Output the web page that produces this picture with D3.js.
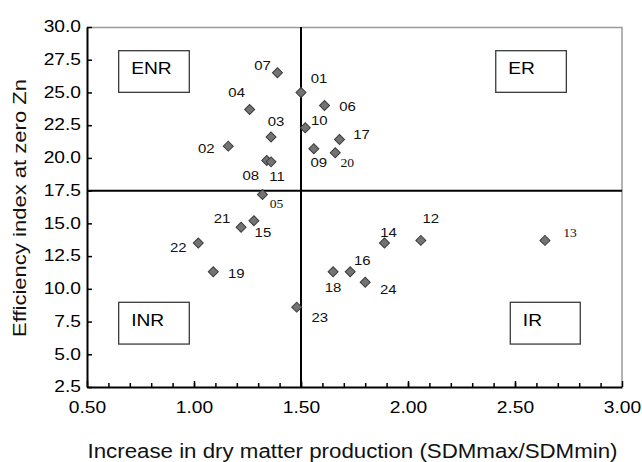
<!DOCTYPE html>
<html>
<head>
<meta charset="utf-8">
<script src="https://cdn.jsdelivr.net/npm/d3@7"></script>
<style>
  body { margin: 0; background: #fff; }
  svg { display: block; }
</style>
</head>
<body>
<svg id="chart" width="642" height="462"></svg>
<script>
// genotype codes and their values
var genotypes = ["01","02","03","04","05","06","07","08","09","10","11","12",
                 "13","14","15","16","17","18","19","20","21","22","23","24"];
var sdmRatio = [1.50, 1.16, 1.36, 1.26, 1.32, 1.61, 1.39, 1.34, 1.56, 1.52, 1.36, 2.06,
                2.64, 1.89, 1.28, 1.73, 1.68, 1.65, 1.09, 1.66, 1.22, 1.02, 1.48, 1.80];
var efficiency = [25.0, 20.9, 21.6, 23.7, 17.2, 24.0, 26.5, 19.8, 20.7, 22.3, 19.7, 13.7,
                  13.7, 13.5, 15.2, 11.3, 21.4, 11.3, 11.3, 20.4, 14.7, 13.5, 8.6, 10.5];

var xTicks = [0.5, 1.0, 1.5, 2.0, 2.5, 3.0];
var yTicks = [2.5, 5.0, 7.5, 10.0, 12.5, 15.0, 17.5, 20.0, 22.5, 25.0, 27.5, 30.0];

// quadrant boxes
var quadNames = ["ENR", "ER", "INR", "IR"];
var quadX0 = [0.648, 2.41, 0.648, 2.478];
var quadX1 = [0.978, 2.74, 0.978, 2.805];
var quadYTop = [28.19, 28.19, 8.97, 8.97];
var quadYBot = [25.01, 25.01, 5.78, 5.78];

var xCut = 1.5, yCut = 17.5;

// where each label sits around its point (px)
var labelOffset = {
  "01": [18, -14], "02": [-22, 2], "03": [5, -16], "04": [-13, -17], "05": [14, 9],
  "06": [23, 1], "07": [-15, -8], "08": [-16, 15], "09": [5, 14], "10": [14, -7],
  "11": [6, 14], "12": [10, -22], "13": [25, -8], "14": [4, -11], "15": [9, 12],
  "16": [12, -11], "17": [22, -5], "18": [0, 16], "19": [23, 2], "20": [12, 10],
  "21": [-19, -9], "22": [-20, 4], "23": [23, 10], "24": [23, 7]
};
var serifLabels = ["05", "13", "20"];

var sans = "'Liberation Sans', Arial, Helvetica, sans-serif";
var serif = "'Liberation Serif', 'Times New Roman', serif";

var svg = d3.select("#chart"),
    width = +svg.attr("width"),
    height = +svg.attr("height"),
    margin = {top: 27, right: 20, bottom: 75, left: 87},
    w = width - margin.left - margin.right,
    h = height - margin.top - margin.bottom;

var x = d3.scaleLinear().domain([0.5, 3.0]).range([0, w]);
var y = d3.scaleLinear().domain([2.5, 30.0]).range([h, 0]);

var g = svg.append("g").attr("transform", "translate(" + margin.left + "," + margin.top + ")");

// top and right frame
g.append("path")
    .attr("d", "M0,0.5H" + w + "V" + h)
    .attr("fill", "none")
    .attr("stroke", "#9a9a9a")
    .attr("stroke-width", 1.5);

// minor x ticks
g.append("g")
    .attr("transform", "translate(0," + h + ")")
    .call(d3.axisBottom(x).tickValues(d3.range(6, 30).map(function(d) { return d / 10; }))
      .tickSize(-4).tickFormat(""))
    .call(function(a) {
      a.select(".domain").remove();
      a.selectAll("line").attr("stroke", "#000").attr("stroke-width", 1.5);
    });

// x axis
var xAxis = g.append("g")
    .attr("transform", "translate(0," + h + ")")
    .call(d3.axisBottom(x).tickValues(xTicks).tickSize(-6).tickPadding(0)
      .tickSizeOuter(0).tickFormat(d3.format(".2f")));
xAxis.select(".domain").attr("stroke", "#000").attr("stroke-width", 2);
xAxis.selectAll("line").attr("stroke", "#000").attr("stroke-width", 1.5);
xAxis.selectAll("text")
    .attr("y", 26.5).attr("dy", null)
    .attr("transform", "scale(1.2,1)")
    .attr("fill", "#000")
    .style("font-family", sans).style("font-size", "16px");

// y axis
var yAxis = g.append("g")
    .call(d3.axisLeft(y).tickValues(yTicks).tickSize(-5).tickPadding(0)
      .tickSizeOuter(0).tickFormat(d3.format(".1f")));
yAxis.select(".domain").attr("stroke", "#000").attr("stroke-width", 2);
yAxis.selectAll("line").attr("stroke", "#000").attr("stroke-width", 1.5);
yAxis.selectAll("text")
    .attr("x", -6 / 1.2).attr("dy", "0.3em")
    .attr("transform", "scale(1.2,1)")
    .attr("fill", "#000")
    .style("font-family", sans).style("font-size", "16px");

// cut lines
g.append("line")
    .attr("x1", x(xCut)).attr("x2", x(xCut))
    .attr("y1", 0).attr("y2", h)
    .attr("stroke", "#000").attr("stroke-width", 2);
g.append("line")
    .attr("x1", 0).attr("x2", w)
    .attr("y1", y(yCut)).attr("y2", y(yCut))
    .attr("stroke", "#000").attr("stroke-width", 2);

// quadrant boxes
var quads = g.selectAll(".quad")
    .data(quadNames)
    .enter().append("g")
    .attr("class", "quad")
    .attr("transform", function(d, i) { return "translate(" + x(quadX0[i]) + "," + y(quadYTop[i]) + ")"; });
quads.append("rect")
    .attr("width", function(d, i) { return x(quadX1[i]) - x(quadX0[i]); })
    .attr("height", function(d, i) { return y(quadYBot[i]) - y(quadYTop[i]); })
    .attr("fill", "#fff")
    .attr("stroke", "#3a3a3a")
    .attr("stroke-width", 1.3);
quads.append("text")
    .attr("transform", "translate(12.5,23.5) scale(1.13,1)")
    .style("font-family", sans).style("font-size", "17px")
    .attr("fill", "#000")
    .text(function(d) { return d; });

// points
var pts = genotypes.map(function(id, i) { return {id: id, x: sdmRatio[i], y: efficiency[i]}; });

g.selectAll(".pt")
    .data(pts)
    .enter().append("path")
    .attr("class", "pt")
    .attr("d", d3.symbol().type(d3.symbolSquare).size(50))
    .attr("transform", function(d) { return "translate(" + x(d.x) + "," + y(d.y) + ") rotate(45)"; })
    .attr("fill", "#737373")
    .attr("stroke", "#3c3c3c")
    .attr("stroke-width", 1);

g.selectAll(".lbl")
    .data(pts)
    .enter().append("text")
    .attr("class", "lbl")
    .attr("transform", function(d) {
      var o = labelOffset[d.id];
      var isSerif = serifLabels.indexOf(d.id) >= 0;
      return "translate(" + (x(d.x) + o[0]) + "," + (y(d.y) + o[1]) + ") scale(" + (isSerif ? 1.05 : 1.15) + ",1)";
    })
    .attr("text-anchor", "middle")
    .attr("dy", "0.36em")
    .attr("fill", "#111")
    .style("font-family", function(d) { return serifLabels.indexOf(d.id) >= 0 ? serif : sans; })
    .style("font-size", function(d) { return serifLabels.indexOf(d.id) >= 0 ? "13px" : "13px"; })
    .text(function(d) { return d.id; });

// axis titles
svg.append("text")
    .attr("x", margin.left + w / 2 - 2)
    .attr("y", 458)
    .attr("text-anchor", "middle")
    .attr("textLength", 530)
    .attr("lengthAdjust", "spacingAndGlyphs")
    .attr("fill", "#111")
    .style("font-family", sans).style("font-size", "20px")
    .text("Increase in dry matter production (SDMmax/SDMmin)");

svg.append("text")
    .attr("transform", "translate(26,208) rotate(-90)")
    .attr("text-anchor", "middle")
    .attr("textLength", 258)
    .attr("lengthAdjust", "spacingAndGlyphs")
    .attr("fill", "#111")
    .style("font-family", sans).style("font-size", "18.5px")
    .text("Efficiency index at zero Zn");
</script>
</body>
</html>
